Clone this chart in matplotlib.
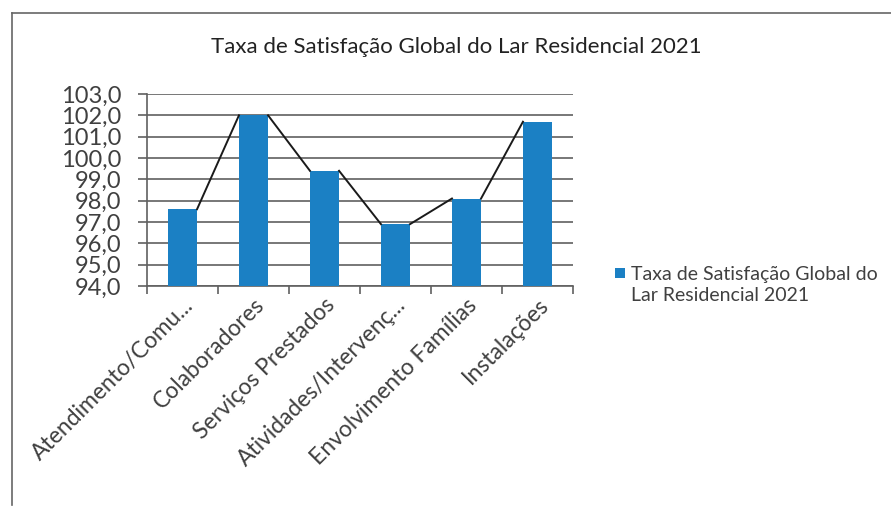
import matplotlib
matplotlib.use("Agg")
import matplotlib.pyplot as plt
import numpy as np
from matplotlib.lines import Line2D
from matplotlib.patches import Rectangle

# ── データ ─────────────────────────────────────────────
categories = ["Atendimento/Comu...", "Colaboradores", "Serviços Prestados",
              "Atividades/Intervenç...", "Envolvimento Famílias", "Instalações"]
values = [97.6, 102.0, 99.4, 96.9, 98.1, 101.7]
series_name = "Taxa de Satisfação Global do\nLar Residencial 2021"
title = "Taxa de Satisfação Global do Lar Residencial 2021"

plt.rcParams["font.family"] = ["Lato", "DejaVu Sans"]

W, H = 891, 513
fig = plt.figure(figsize=(W / 100, H / 100), dpi=100)

# outer frame (left + top edges, as on the scan)
fig.add_artist(Line2D([12 / W, 12 / W], [1 - 505 / H, 1 - 13 / H],
                      transform=fig.transFigure, color="#666666", lw=1.2))
fig.add_artist(Line2D([12 / W, 1.0], [1 - 13 / H, 1 - 13 / H],
                      transform=fig.transFigure, color="#666666", lw=1.2))

ax = fig.add_axes([147 / W, 1 - 286 / H, (573 - 147) / W, (286 - 94) / H])

x = np.arange(len(categories))
w = 0.41
bar_color = "#1b80c4"
ax.bar(x, values, w, color=bar_color, zorder=3)

# series lines (corner to corner)
for i in range(len(values) - 1):
    ax.plot([x[i] + w / 2, x[i + 1] - w / 2], [values[i], values[i + 1]],
            color="#1a1a1a", lw=1.4, zorder=4)

ax.set_xlim(-0.5, len(categories) - 0.5)
ax.set_ylim(94, 103)
yt = np.arange(94, 104, 1)
ax.set_yticks(yt)
ax.set_yticklabels([f"{v:.1f}".replace(".", ",") for v in yt],
                   fontsize=17, color="#404040")
ax.grid(axis="y", color="#606060", lw=1.2, zorder=0)
ax.tick_params(axis="y", length=6.5, width=1.2, color="#606060", pad=12)

ax.set_xticks(x)
ax.set_xticklabels(categories, rotation=45, ha="right", rotation_mode="anchor",
                   fontsize=16.5, color="#404040")
ax.set_xticks(np.arange(-0.5, len(categories), 1), minor=True)
ax.tick_params(axis="x", which="major", length=0, pad=6)
ax.tick_params(axis="x", which="minor", length=6, width=1.2, color="#606060")

for s in ["top", "right"]:
    ax.spines[s].set_visible(False)
for s in ["left", "bottom"]:
    ax.spines[s].set_color("#606060")
    ax.spines[s].set_linewidth(1.2)

fig.text(456 / W, 1 - 47 / H, title, ha="center", va="center",
         fontsize=16, color="#222222")

# legend
fig.patches.append(Rectangle((615 / W, 1 - 278 / H), 10 / W, 10 / H,
                             transform=fig.transFigure, facecolor=bar_color,
                             edgecolor="none"))
fig.text(631 / W, 1 - 285 / H, series_name, ha="left", va="center",
         fontsize=14, color="#404040", linespacing=1.35)

fig.savefig("out.png", dpi=100)
